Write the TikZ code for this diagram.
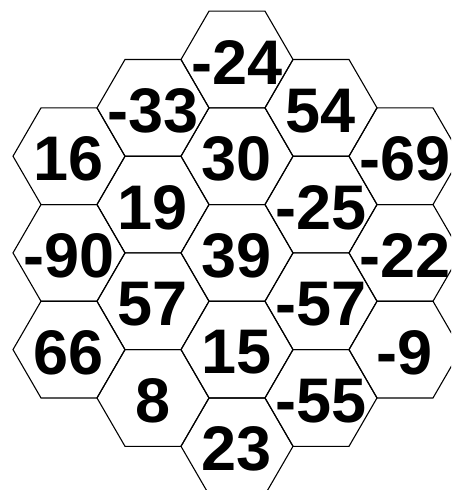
\documentclass[tikz,border=0pt]{standalone}
\usepackage{fontspec}
\setmainfont{Liberation Sans}
\begin{document}
\begin{tikzpicture}[x=1pt,y=-1pt,
  hexcell/.style={draw=black,line width=1.1pt},
  num/.style={font=\fontsize{63}{63}\selectfont\bfseries,inner sep=0pt}]
\useasboundingbox (0,0) rectangle (451,490);
\clip (0,0) rectangle (451,490);
\foreach \cx/\cy/\t/\n in {
  69/156.2/16/a1, 69/252.9/-90/a2, 69/349.6/66/a3,
  153/107.85/-33/b1, 153/204.55/19/b2, 153/301.25/57/b3, 153/397.95/8/b4,
  237/59.5/-24/c1, 237/156.2/30/c2, 237/252.9/39/c3, 237/349.6/15/c4, 237/446.3/23/c5,
  321/107.85/54/d1, 321/204.55/-25/d2, 321/301.25/-57/d3, 321/397.95/-55/d4,
  405/156.2/-69/e1, 405/252.9/-22/e2, 405/349.6/-9/e3} {
  \draw[hexcell] (\cx-56,\cy) -- (\cx-28,\cy-48.35) -- (\cx+28,\cy-48.35)
     -- (\cx+56,\cy) -- (\cx+28,\cy+48.35) -- (\cx-28,\cy+48.35) -- cycle;
  \node[num] (n\n) at (\cx,\cy+3) {\t};
}
\end{tikzpicture}
\end{document}
